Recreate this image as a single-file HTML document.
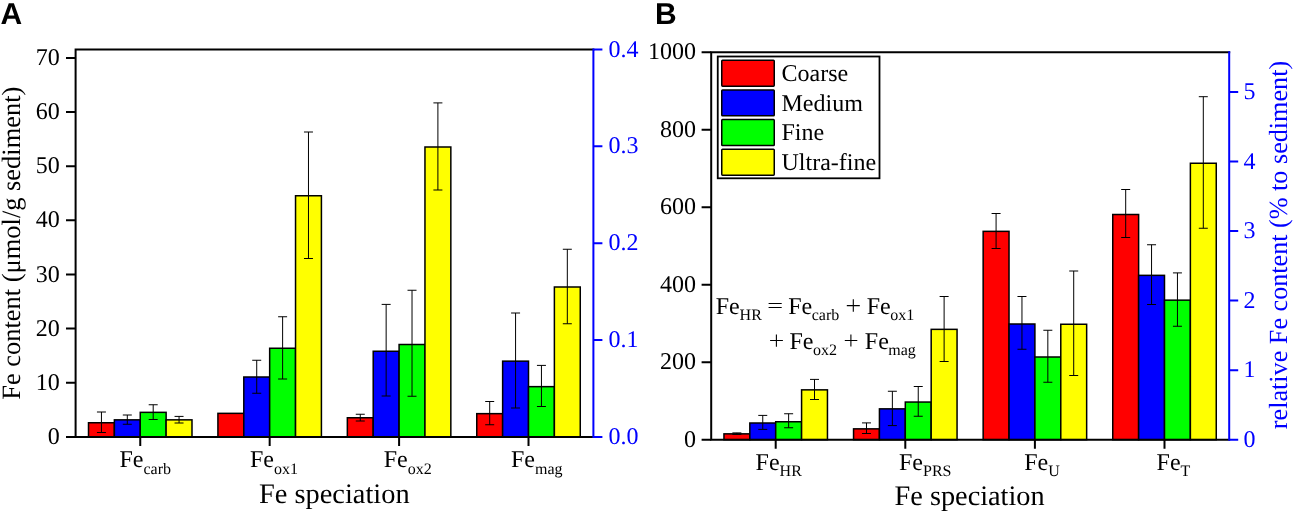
<!DOCTYPE html>
<html><head><meta charset="utf-8"><style>
html,body{margin:0;padding:0;background:#fff;}
svg{display:block;will-change:transform;}
text{text-rendering:geometricPrecision;}
</style></head><body>
<svg width="1293" height="512" viewBox="0 0 1293 512">
<rect width="1293" height="512" fill="#fff"/>
<rect x="88.50" y="422.75" width="25.875" height="14.15" fill="#ff0000" stroke="#000" stroke-width="1.5"/>
<rect x="114.38" y="419.85" width="25.875" height="17.05" fill="#0000ff" stroke="#000" stroke-width="1.5"/>
<rect x="140.25" y="412.35" width="25.875" height="24.55" fill="#00ff00" stroke="#000" stroke-width="1.5"/>
<rect x="166.12" y="419.85" width="25.875" height="17.05" fill="#ffff00" stroke="#000" stroke-width="1.5"/>
<rect x="217.92" y="413.35" width="25.875" height="23.55" fill="#ff0000" stroke="#000" stroke-width="1.5"/>
<rect x="243.79" y="377.00" width="25.875" height="59.90" fill="#0000ff" stroke="#000" stroke-width="1.5"/>
<rect x="269.67" y="348.25" width="25.875" height="88.65" fill="#00ff00" stroke="#000" stroke-width="1.5"/>
<rect x="295.54" y="195.75" width="25.875" height="241.15" fill="#ffff00" stroke="#000" stroke-width="1.5"/>
<rect x="347.34" y="417.75" width="25.875" height="19.15" fill="#ff0000" stroke="#000" stroke-width="1.5"/>
<rect x="373.21" y="351.25" width="25.875" height="85.65" fill="#0000ff" stroke="#000" stroke-width="1.5"/>
<rect x="399.09" y="344.50" width="25.875" height="92.40" fill="#00ff00" stroke="#000" stroke-width="1.5"/>
<rect x="424.96" y="147.00" width="25.875" height="289.90" fill="#ffff00" stroke="#000" stroke-width="1.5"/>
<rect x="476.76" y="413.65" width="25.875" height="23.25" fill="#ff0000" stroke="#000" stroke-width="1.5"/>
<rect x="502.63" y="361.15" width="25.875" height="75.75" fill="#0000ff" stroke="#000" stroke-width="1.5"/>
<rect x="528.51" y="386.65" width="25.875" height="50.25" fill="#00ff00" stroke="#000" stroke-width="1.5"/>
<rect x="554.38" y="287.00" width="25.875" height="149.90" fill="#ffff00" stroke="#000" stroke-width="1.5"/>
<path d="M101.44 412.00V432.50M96.94 412.00h9.0M96.94 432.50h9.0M127.31 415.00V424.25M122.81 415.00h9.0M122.81 424.25h9.0M153.19 404.75V419.50M148.69 404.75h9.0M148.69 419.50h9.0M179.06 416.40V423.00M174.56 416.40h9.0M174.56 423.00h9.0M256.73 360.25V393.25M252.23 360.25h9.0M252.23 393.25h9.0M282.61 316.75V379.00M278.11 316.75h9.0M278.11 379.00h9.0M308.48 132.00V258.50M303.98 132.00h9.0M303.98 258.50h9.0M360.28 414.25V421.00M355.78 414.25h9.0M355.78 421.00h9.0M386.15 304.40V396.00M381.65 304.40h9.0M381.65 396.00h9.0M412.03 290.25V396.25M407.53 290.25h9.0M407.53 396.25h9.0M437.90 102.90V190.00M433.40 102.90h9.0M433.40 190.00h9.0M489.70 401.50V424.75M485.20 401.50h9.0M485.20 424.75h9.0M515.57 313.00V408.00M511.07 313.00h9.0M511.07 408.00h9.0M541.45 365.40V406.50M536.95 365.40h9.0M536.95 406.50h9.0M567.32 249.25V323.75M562.82 249.25h9.0M562.82 323.75h9.0" stroke="#000" stroke-width="1.0" fill="none"/>
<rect x="723.95" y="433.85" width="25.875" height="5.85" fill="#ff0000" stroke="#000" stroke-width="1.5"/>
<rect x="749.83" y="423.00" width="25.875" height="16.70" fill="#0000ff" stroke="#000" stroke-width="1.5"/>
<rect x="775.70" y="421.75" width="25.875" height="17.95" fill="#00ff00" stroke="#000" stroke-width="1.5"/>
<rect x="801.58" y="389.85" width="25.875" height="49.85" fill="#ffff00" stroke="#000" stroke-width="1.5"/>
<rect x="853.55" y="428.85" width="25.875" height="10.85" fill="#ff0000" stroke="#000" stroke-width="1.5"/>
<rect x="879.43" y="408.85" width="25.875" height="30.85" fill="#0000ff" stroke="#000" stroke-width="1.5"/>
<rect x="905.30" y="402.05" width="25.875" height="37.65" fill="#00ff00" stroke="#000" stroke-width="1.5"/>
<rect x="931.18" y="329.35" width="25.875" height="110.35" fill="#ffff00" stroke="#000" stroke-width="1.5"/>
<rect x="983.15" y="231.35" width="25.875" height="208.35" fill="#ff0000" stroke="#000" stroke-width="1.5"/>
<rect x="1009.03" y="324.00" width="25.875" height="115.70" fill="#0000ff" stroke="#000" stroke-width="1.5"/>
<rect x="1034.90" y="357.00" width="25.875" height="82.70" fill="#00ff00" stroke="#000" stroke-width="1.5"/>
<rect x="1060.78" y="324.25" width="25.875" height="115.45" fill="#ffff00" stroke="#000" stroke-width="1.5"/>
<rect x="1112.75" y="214.50" width="25.875" height="225.20" fill="#ff0000" stroke="#000" stroke-width="1.5"/>
<rect x="1138.62" y="275.35" width="25.875" height="164.35" fill="#0000ff" stroke="#000" stroke-width="1.5"/>
<rect x="1164.50" y="300.15" width="25.875" height="139.55" fill="#00ff00" stroke="#000" stroke-width="1.5"/>
<rect x="1190.38" y="163.25" width="25.875" height="276.45" fill="#ffff00" stroke="#000" stroke-width="1.5"/>
<path d="M736.89 432.90V434.40M732.39 432.90h9.0M732.39 434.40h9.0M762.76 415.40V429.40M758.26 415.40h9.0M758.26 429.40h9.0M788.64 413.75V427.75M784.14 413.75h9.0M784.14 427.75h9.0M814.51 379.40V399.50M810.01 379.40h9.0M810.01 399.50h9.0M866.49 422.90V433.50M861.99 422.90h9.0M861.99 433.50h9.0M892.36 391.25V425.60M887.86 391.25h9.0M887.86 425.60h9.0M918.24 386.50V416.25M913.74 386.50h9.0M913.74 416.25h9.0M944.11 296.50V361.50M939.61 296.50h9.0M939.61 361.50h9.0M996.09 213.50V248.50M991.59 213.50h9.0M991.59 248.50h9.0M1021.96 296.50V349.25M1017.46 296.50h9.0M1017.46 349.25h9.0M1047.84 330.25V382.25M1043.34 330.25h9.0M1043.34 382.25h9.0M1073.71 271.00V375.50M1069.21 271.00h9.0M1069.21 375.50h9.0M1125.69 189.50V237.50M1121.19 189.50h9.0M1121.19 237.50h9.0M1151.56 244.75V304.50M1147.06 244.75h9.0M1147.06 304.50h9.0M1177.44 272.90V326.25M1172.94 272.90h9.0M1172.94 326.25h9.0M1203.31 96.70V228.25M1198.81 96.70h9.0M1198.81 228.25h9.0" stroke="#000" stroke-width="1.0" fill="none"/>
<path d="M75.6 49.5H593.4M75.6 436.9H593.4M75.6 49.5V436.9" stroke="#000" stroke-width="2.0" fill="none" stroke-linecap="square"/>
<path d="M66.0 436.90H75.6M66.0 382.76H75.6M66.0 328.62H75.6M66.0 274.48H75.6M66.0 220.34H75.6M66.0 166.20H75.6M66.0 112.06H75.6M66.0 57.92H75.6" stroke="#000" stroke-width="2.0" fill="none"/>
<path d="M140.25 436.9V445.9M269.67 436.9V445.9M399.09 436.9V445.9M528.51 436.9V445.9" stroke="#000" stroke-width="2.0" fill="none"/>
<path d="M593.4 48.5V437.9M593.4 436.90H602.4M593.4 340.05H602.4M593.4 243.20H602.4M593.4 146.35H602.4M593.4 49.50H602.4" stroke="#0000ff" stroke-width="2.0" fill="none"/>
<path d="M711.2 52.2H1229.2M711.2 439.7H1229.2M711.2 52.2V439.7" stroke="#000" stroke-width="2.0" fill="none" stroke-linecap="square"/>
<path d="M701.6 439.70H711.2M701.6 362.20H711.2M701.6 284.70H711.2M701.6 207.20H711.2M701.6 129.70H711.2M701.6 52.20H711.2" stroke="#000" stroke-width="2.0" fill="none"/>
<path d="M775.70 439.7V448.7M905.30 439.7V448.7M1034.90 439.7V448.7M1164.50 439.7V448.7" stroke="#000" stroke-width="2.0" fill="none"/>
<path d="M1229.2 51.2V440.7M1229.2 439.70H1238.2M1229.2 370.16H1238.2M1229.2 300.62H1238.2M1229.2 231.08H1238.2M1229.2 161.54H1238.2M1229.2 92.00H1238.2" stroke="#0000ff" stroke-width="2.0" fill="none"/>
<text x="59.8" y="443.95" font-family="Liberation Serif" font-size="24" text-anchor="end">0</text>
<text x="59.8" y="389.81" font-family="Liberation Serif" font-size="24" text-anchor="end">10</text>
<text x="59.8" y="335.67" font-family="Liberation Serif" font-size="24" text-anchor="end">20</text>
<text x="59.8" y="281.53" font-family="Liberation Serif" font-size="24" text-anchor="end">30</text>
<text x="59.8" y="227.39" font-family="Liberation Serif" font-size="24" text-anchor="end">40</text>
<text x="59.8" y="173.25" font-family="Liberation Serif" font-size="24" text-anchor="end">50</text>
<text x="59.8" y="119.11" font-family="Liberation Serif" font-size="24" text-anchor="end">60</text>
<text x="59.8" y="64.97" font-family="Liberation Serif" font-size="24" text-anchor="end">70</text>
<text x="608.4" y="443.95" font-family="Liberation Serif" font-size="24" fill="#0000ff">0.0</text>
<text x="608.4" y="347.10" font-family="Liberation Serif" font-size="24" fill="#0000ff">0.1</text>
<text x="608.4" y="250.25" font-family="Liberation Serif" font-size="24" fill="#0000ff">0.2</text>
<text x="608.4" y="153.40" font-family="Liberation Serif" font-size="24" fill="#0000ff">0.3</text>
<text x="608.4" y="56.55" font-family="Liberation Serif" font-size="24" fill="#0000ff">0.4</text>
<text x="696" y="446.75" font-family="Liberation Serif" font-size="24" text-anchor="end">0</text>
<text x="696" y="369.25" font-family="Liberation Serif" font-size="24" text-anchor="end">200</text>
<text x="696" y="291.75" font-family="Liberation Serif" font-size="24" text-anchor="end">400</text>
<text x="696" y="214.25" font-family="Liberation Serif" font-size="24" text-anchor="end">600</text>
<text x="696" y="136.75" font-family="Liberation Serif" font-size="24" text-anchor="end">800</text>
<text x="696" y="59.25" font-family="Liberation Serif" font-size="24" text-anchor="end">1000</text>
<text x="1243.6" y="446.75" font-family="Liberation Serif" font-size="24" fill="#0000ff">0</text>
<text x="1243.6" y="377.21" font-family="Liberation Serif" font-size="24" fill="#0000ff">1</text>
<text x="1243.6" y="307.67" font-family="Liberation Serif" font-size="24" fill="#0000ff">2</text>
<text x="1243.6" y="238.13" font-family="Liberation Serif" font-size="24" fill="#0000ff">3</text>
<text x="1243.6" y="168.59" font-family="Liberation Serif" font-size="24" fill="#0000ff">4</text>
<text x="1243.6" y="99.05" font-family="Liberation Serif" font-size="24" fill="#0000ff">5</text>
<text x="119.5" y="467" font-family="Liberation Serif" font-size="24">Fe<tspan font-size="16" dy="6.6">carb</tspan></text>
<text x="250" y="467" font-family="Liberation Serif" font-size="24">Fe<tspan font-size="16" dy="6.6">ox1</tspan></text>
<text x="383.7" y="467" font-family="Liberation Serif" font-size="24">Fe<tspan font-size="16" dy="6.6">ox2</tspan></text>
<text x="511" y="467" font-family="Liberation Serif" font-size="24">Fe<tspan font-size="16" dy="6.6">mag</tspan></text>
<text x="755.6" y="469.8" font-family="Liberation Serif" font-size="24">Fe<tspan font-size="16" dy="6.5">HR</tspan></text>
<text x="899" y="469.8" font-family="Liberation Serif" font-size="24">Fe<tspan font-size="16" dy="6.5">PRS</tspan></text>
<text x="1024.2" y="469.8" font-family="Liberation Serif" font-size="24">Fe<tspan font-size="16" dy="6.5">U</tspan></text>
<text x="1156.6" y="469.8" font-family="Liberation Serif" font-size="24">Fe<tspan font-size="16" dy="6.5">T</tspan></text>
<text x="334.3" y="502.5" font-family="Liberation Serif" font-size="28.4" text-anchor="middle">Fe speciation</text>
<text x="969.6" y="504.7" font-family="Liberation Serif" font-size="28.3" text-anchor="middle">Fe speciation</text>
<text transform="translate(20.3 243.2) rotate(-90)" font-family="Liberation Serif" font-size="26.45" text-anchor="middle">Fe content (μmol/g sediment)</text>
<text transform="translate(1287.2 245.0) rotate(-90)" font-family="Liberation Serif" font-size="26.17" text-anchor="middle" fill="#0000ff">relative Fe content (% to sediment)</text>
<text x="0.6" y="23.9" font-family="Liberation Sans" font-weight="bold" font-size="30">A</text>
<text x="655.0" y="23.9" font-family="Liberation Sans" font-weight="bold" font-size="30">B</text>
<rect x="717.75" y="56.5" width="161.75" height="121.8" fill="#fff" stroke="#000" stroke-width="1.8"/>
<rect x="721.75" y="60.25" width="52.5" height="25.9" rx="0.8" fill="#ff0000" stroke="#000" stroke-width="1.5"/>
<text x="781.5" y="81.40" font-family="Liberation Serif" font-size="24">Coarse</text>
<rect x="721.75" y="89.92" width="52.5" height="25.9" rx="0.8" fill="#0000ff" stroke="#000" stroke-width="1.5"/>
<text x="781.5" y="110.93" font-family="Liberation Serif" font-size="24">Medium</text>
<rect x="721.75" y="119.59" width="52.5" height="25.9" rx="0.8" fill="#00ff00" stroke="#000" stroke-width="1.5"/>
<text x="781.5" y="140.46" font-family="Liberation Serif" font-size="24">Fine</text>
<rect x="721.75" y="149.26" width="52.5" height="25.9" rx="0.8" fill="#ffff00" stroke="#000" stroke-width="1.5"/>
<text x="781.5" y="169.99" font-family="Liberation Serif" font-size="24">Ultra-fine</text>
<text x="715.70" y="313.75" font-family="Liberation Serif" font-size="24">Fe</text>
<text x="739.60" y="320.00" font-family="Liberation Serif" font-size="16">HR</text>
<text x="788.20" y="313.75" font-family="Liberation Serif" font-size="24">Fe</text>
<text x="811.70" y="320.00" font-family="Liberation Serif" font-size="16">carb</text>
<text x="866.70" y="313.75" font-family="Liberation Serif" font-size="24">Fe</text>
<text x="890.20" y="320.00" font-family="Liberation Serif" font-size="16">ox1</text>
<text x="789.40" y="348.75" font-family="Liberation Serif" font-size="24">Fe</text>
<text x="812.90" y="355.00" font-family="Liberation Serif" font-size="16">ox2</text>
<text x="864.80" y="348.75" font-family="Liberation Serif" font-size="24">Fe</text>
<text x="888.30" y="355.00" font-family="Liberation Serif" font-size="16">mag</text>
<path d="M846.8 305.6H859.8M853.3 299.2V311.8M770.1 340.5H782.9M776.4 334.4V346.8M844.8 340.5H857.3M850.9 334.4V346.5M768.6 303.5H781.7M768.6 307.5H781.7" stroke="#000" stroke-width="1.1" fill="none"/>
</svg>
</body></html>
